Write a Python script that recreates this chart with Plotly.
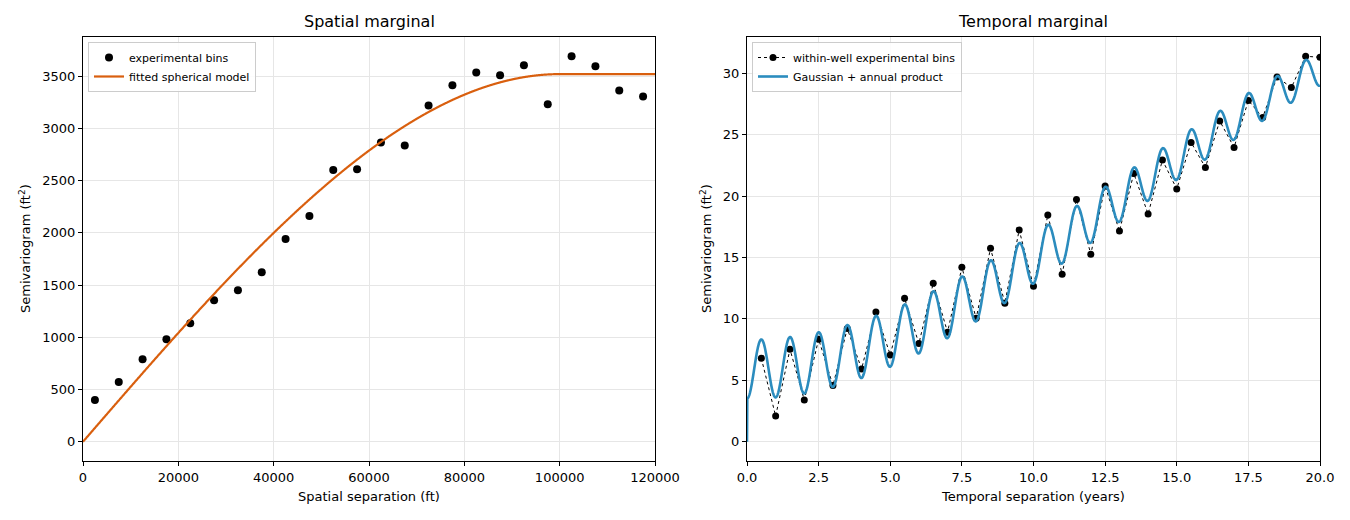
import numpy as np
import plotly.graph_objects as go

# ---------------- data ----------------
spatial_lag_ft = [2500, 7500, 12500, 17500, 22500, 27500, 32500, 37500, 42500, 47500,
                  52500, 57500, 62500, 67500, 72500, 77500, 82500, 87500, 92500, 97500,
                  102500, 107500, 112500, 117500]
spatial_gamma = [400, 571, 791, 982, 1135, 1355, 1451, 1623, 1941, 2161,
                 2601, 2608, 2866, 2837, 3220, 3414, 3535, 3510, 3605, 3232,
                 3691, 3596, 3363, 3306]

temporal_lag_yr = [0.5, 1.0, 1.5, 2.0, 2.5, 3.0, 3.5, 4.0, 4.5, 5.0,
                   5.5, 6.0, 6.5, 7.0, 7.5, 8.0, 8.5, 9.0, 9.5, 10.0,
                   10.5, 11.0, 11.5, 12.0, 12.5, 13.0, 13.5, 14.0, 14.5, 15.0,
                   15.5, 16.0, 16.5, 17.0, 17.5, 18.0, 18.5, 19.0, 19.5, 20.0]
temporal_gamma = [6.80, 2.09, 7.53, 3.39, 8.35, 4.58, 9.21, 5.93, 10.57, 7.07,
                  11.68, 7.99, 12.90, 8.92, 14.20, 10.05, 15.75, 11.28, 17.24, 12.65,
                  18.46, 13.63, 19.73, 15.26, 20.81, 17.15, 21.84, 18.54, 22.93, 20.58,
                  24.37, 22.33, 26.12, 23.96, 27.78, 26.40, 29.70, 28.83, 31.38, 31.30]

# fitted model parameters (as shown by the model curves)
sph_nugget = 0.0
sph_sill = 3520.0
sph_range = 100000.0

tmp_nugget = 3.5
gau_sill = 37.0
gau_range = 18.5
annual_amp = 4.8
product_k = 0.0172

# ---------------- model curves ----------------
h = np.linspace(0, 120000, 2401)
hr = np.minimum(h / sph_range, 1.0)
sph = sph_nugget + (sph_sill - sph_nugget) * (1.5 * hr - 0.5 * hr ** 3)

t = np.linspace(0, 20, 2001)
G = gau_sill * (1 - np.exp(-(t / gau_range) ** 2))
P = annual_amp * (1 - np.cos(2 * np.pi * t)) / 2
tmp = np.where(t > 0, tmp_nugget + G + P - product_k * G * P, 0.0)

ORANGE = "#d95f0e"
BLUE = "#2b8cbe"
FONT = "DejaVu Sans, Arial, sans-serif"

fig = go.Figure()
fig.add_trace(go.Scatter(x=spatial_lag_ft, y=spatial_gamma, mode="markers",
                         marker=dict(color="black", size=8),
                         name="experimental bins", xaxis="x", yaxis="y", legend="legend"))
fig.add_trace(go.Scatter(x=h, y=sph, mode="lines",
                         line=dict(color=ORANGE, width=2.2, simplify=False),
                         name="fitted spherical model", xaxis="x", yaxis="y", legend="legend"))
fig.add_trace(go.Scatter(x=temporal_lag_yr, y=temporal_gamma, mode="lines+markers",
                         line=dict(color="black", width=1, dash="dot"),
                         marker=dict(color="black", size=7),
                         name="within-well experimental bins", xaxis="x2", yaxis="y2", legend="legend2"))
fig.add_trace(go.Scatter(x=t, y=tmp, mode="lines",
                         line=dict(color=BLUE, width=2.6, simplify=False),
                         name="Gaussian + annual product", xaxis="x2", yaxis="y2", legend="legend2"))

W, H = 1350, 520
def px_x(p): return p / W
def px_y(p): return 1 - p / H

axis_common = dict(showline=True, linecolor="black", linewidth=1.2, mirror=True,
                   ticks="outside", ticklen=4, tickcolor="black", tickwidth=1,
                   showgrid=True, gridcolor="#e6e6e6", gridwidth=1, zeroline=False,
                   automargin=False,
                   tickfont=dict(size=13, color="black", family=FONT))

def ann(text, x, y, size=13, angle=0):
    return dict(text=text, x=px_x(x), y=px_y(y), xref="paper", yref="paper",
                xanchor="center", yanchor="middle", showarrow=False, textangle=angle,
                font=dict(size=size, family=FONT, color="black"))

fig.update_layout(
    template="none",
    width=W, height=H, margin=dict(l=0, r=0, t=0, b=0, pad=0), autosize=False,
    paper_bgcolor="white", plot_bgcolor="white",
    font=dict(family=FONT, color="black"),
    xaxis=dict(domain=[px_x(83), px_x(655)], range=[0, 120000], dtick=20000, tick0=0,
               tickformat="d", anchor="y", **axis_common),
    yaxis=dict(domain=[px_y(461), px_y(37)], range=[-184.5, 3875.5], dtick=500, tick0=0,
               tickformat="d", anchor="x", **axis_common),
    xaxis2=dict(domain=[px_x(747), px_x(1320)], range=[0, 20], dtick=2.5, tick0=0,
                tickformat=".1f", anchor="y2", **axis_common),
    yaxis2=dict(domain=[px_y(461), px_y(37)], range=[-1.569, 32.95], dtick=5, tick0=0,
                anchor="x2", **axis_common),
    legend=dict(x=px_x(88), y=px_y(42), xanchor="left", yanchor="top",
                bgcolor="rgba(255,255,255,0.85)", bordercolor="#cccccc", borderwidth=1,
                font=dict(size=11, family=FONT), itemwidth=30, tracegroupgap=0),
    legend2=dict(x=px_x(752), y=px_y(42), xanchor="left", yanchor="top",
                 bgcolor="rgba(255,255,255,0.85)", bordercolor="#cccccc", borderwidth=1,
                 font=dict(size=11, family=FONT), itemwidth=30, tracegroupgap=0),
    annotations=[
        ann("Spatial marginal", 369, 22, 16),
        ann("Temporal marginal", 1033, 22, 16),
        ann("Spatial separation (ft)", 369, 496),
        ann("Temporal separation (years)", 1033, 496),
        ann("Semivariogram (ft<sup>2</sup>)", 25, 249, 13, -90),
        ann("Semivariogram (ft<sup>2</sup>)", 706, 249, 13, -90),
    ],
)

fig.write_html("out.html")
